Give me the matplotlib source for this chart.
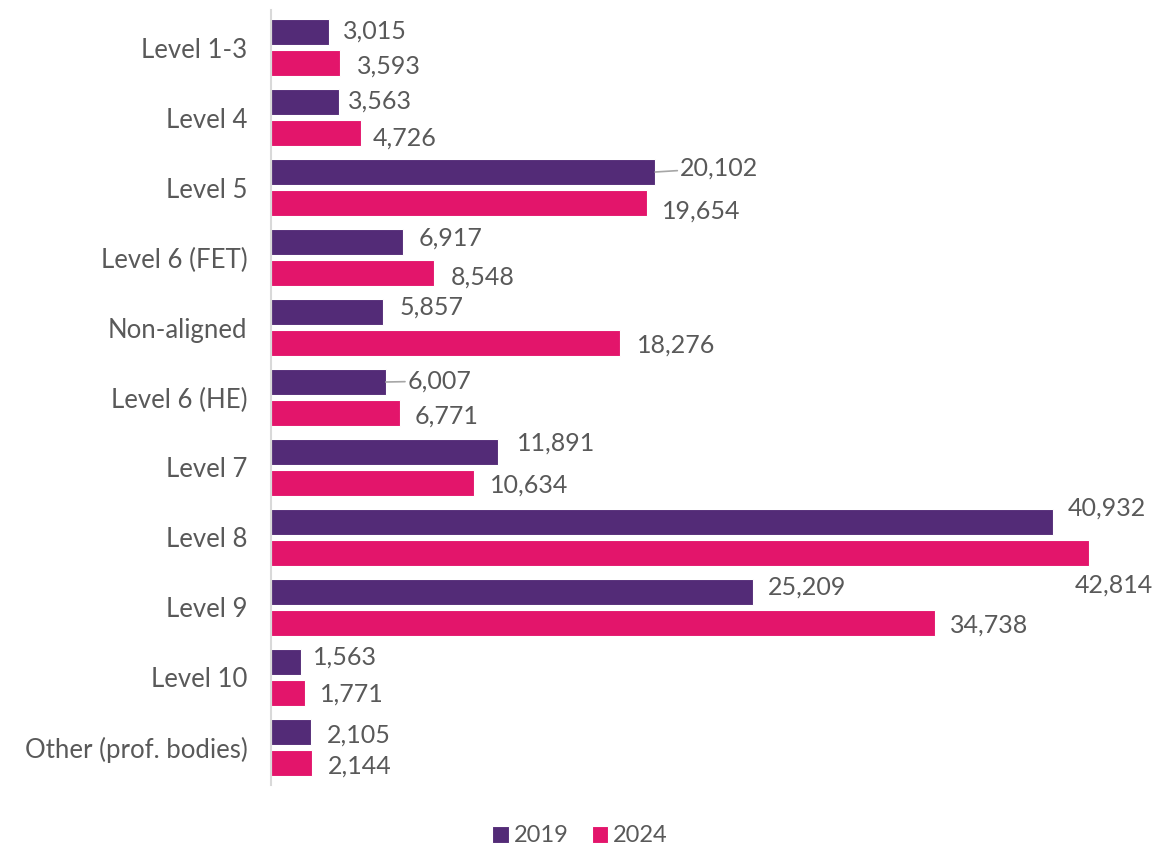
import matplotlib.pyplot as plt
import numpy as np

plt.rcParams['font.family'] = ['Lato', 'DejaVu Sans']

# Data
categories = ["Level 1-3", "Level 4", "Level 5", "Level 6 (FET)", "Non-aligned",
              "Level 6 (HE)", "Level 7", "Level 8", "Level 9", "Level 10",
              "Other (prof. bodies)"]
values_2019 = [3015, 3563, 20102, 6917, 5857, 6007, 11891, 40932, 25209, 1563, 2105]
values_2024 = [3593, 4726, 19654, 8548, 18276, 6771, 10634, 42814, 34738, 1771, 2144]
series_names = ["2019", "2024"]

# label offsets in pixels (dx, dy) relative to bar end / bar centre
offsets_2019 = [(14, 1), (9, 1), (25, 4), (15, 4), (17, 5), (22, 1), (19, 9), (15, 14), (15, 5), (12, 5), (16, -3)]
offsets_2024 = [(17, -3), (11, -5), (15, -8), (16, -4), (17, -2), (14, -3), (16, -2), (-14, -32), (15, -2), (15, -1), (16, -3)]
leaders_2019 = [False, False, True, False, False, True, False, False, False, False, False]

purple = '#532B77'
pink = '#E3156B'
grey_text = '#595959'

fig = plt.figure(figsize=(11.57, 8.48), dpi=100)
ax = fig.add_axes([271 / 1157, 1 - 785 / 848, (1150 - 271) / 1157, 775 / 848])

y = np.arange(len(categories))
h = 26 / 70
off = 15.5 / 70

bars1 = ax.barh(y - off, values_2019, height=h, color=purple, edgecolor='white',
                linewidth=0.8, label=series_names[0])
bars2 = ax.barh(y + off, values_2024, height=h, color=pink, edgecolor='white',
                linewidth=0.8, label=series_names[1])

for i in range(len(categories)):
    dx, dy = offsets_2019[i]
    props = None
    if leaders_2019[i]:
        props = dict(arrowstyle='-', color='#a6a6a6', lw=1.2, shrinkA=0, shrinkB=0)
    ax.annotate(f"{values_2019[i]:,}", xy=(values_2019[i], y[i] - off),
                xytext=(dx, dy), textcoords='offset pixels',
                ha='left', va='center', fontsize=18, color=grey_text,
                arrowprops=props)
    dx, dy = offsets_2024[i]
    ax.annotate(f"{values_2024[i]:,}", xy=(values_2024[i], y[i] + off),
                xytext=(dx, dy), textcoords='offset pixels',
                ha='left', va='center', fontsize=18, color=grey_text)

ax.set_xlim(0, 46000)
ax.set_ylim(10 + 0.536, -0.536)
ax.set_yticks(y)
ax.set_yticklabels(categories, fontsize=18.5, color=grey_text)
ax.tick_params(axis='y', length=0, pad=17)
ax.set_xticks([])

for s in ['top', 'right', 'bottom']:
    ax.spines[s].set_visible(False)
ax.spines['left'].set_color('#d9d9d9')
ax.spines['left'].set_linewidth(1.5)

fig.legend(loc='center', bbox_to_anchor=(580 / 1157, 1 - 836 / 848), ncol=2,
           frameon=False, fontsize=17, handlelength=0.7, handleheight=0.7,
           handletextpad=0.2, columnspacing=1.0, labelcolor=grey_text)

fig.savefig('out.png', dpi=100)
